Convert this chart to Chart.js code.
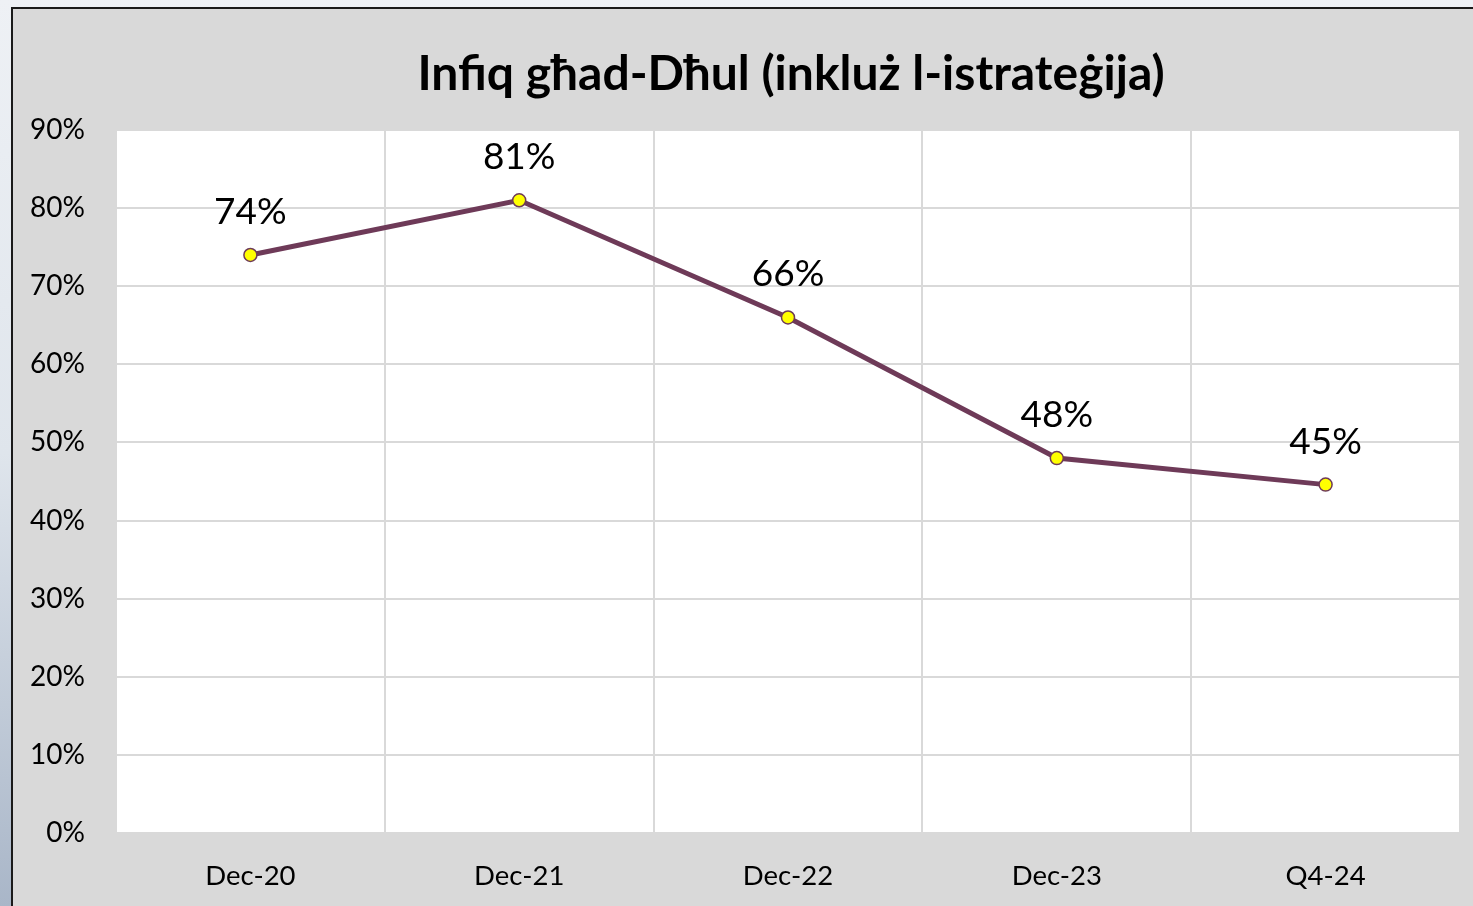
<!DOCTYPE html>
<html>
<head>
<meta charset="utf-8">
<script src="https://cdn.jsdelivr.net/npm/chart.js@4.4.1/dist/chart.umd.min.js"></script>
<style>
  html, body { margin:0; padding:0; width:1473px; height:906px; overflow:hidden; }
  body { background: linear-gradient(180deg, #eef1f5 0%, #dfe5ec 50%, #a9b6c8 100%); position:relative; }
  #frame { position:absolute; left:11px; top:7px; width:1462px; height:899px; border-left:2px solid #1a1a1a; border-top:2px solid #1a1a1a; background:#d9d9d9; }
  #c { display:block; }
</style>
</head>
<body>
<div id="frame"><canvas id="c" width="1462" height="899"></canvas></div>
<script>
const TITLE = 'Infiq għad-Dħul (inkluż l-istrateġija)';
const categories = ['Dec-20', 'Dec-21', 'Dec-22', 'Dec-23', 'Q4-24'];
const values = [74, 81, 66, 48, 44.6];
const yTicks = [0, 10, 20, 30, 40, 50, 60, 70, 80, 90];

const FONT = 'Lato, "Open Sans", sans-serif';

const labelsPlugin = {
  id: 'pointLabels',
  afterDatasetsDraw(chart) {
    const ctx = chart.ctx;
    const meta = chart.getDatasetMeta(0);
    ctx.save();
    ctx.font = '37px ' + FONT;
    ctx.fillStyle = '#000';
    ctx.textAlign = 'center';
    ctx.textBaseline = 'middle';
    meta.data.forEach((pt, i) => {
      ctx.fillText(Math.round(values[i]) + '%', pt.x, pt.y - 43);
    });
    ctx.restore();
  }
};

const titlePlugin = {
  id: 'customTitle',
  afterDraw(chart) {
    const ctx = chart.ctx;
    const a = chart.chartArea;
    ctx.save();
    ctx.font = 'bold 48px ' + FONT;
    ctx.fillStyle = '#000';
    ctx.textAlign = 'center';
    ctx.textBaseline = 'middle';
    ctx.fillText(TITLE, (a.left + a.right) / 2 + 3, 66);
    ctx.restore();
  }
};

const plotBg = {
  id: 'plotBg',
  beforeDraw(chart) {
    const a = chart.chartArea;
    const ctx = chart.ctx;
    ctx.save();
    ctx.fillStyle = '#ffffff';
    ctx.fillRect(a.left, a.top, a.right - a.left, a.bottom - a.top);
    ctx.restore();
  }
};

new Chart(document.getElementById('c'), {
  type: 'line',
  data: {
    labels: categories,
    datasets: [{
      data: values,
      borderColor: '#6e3a58',
      borderWidth: 5,
      pointBackgroundColor: '#ffff00',
      pointBorderColor: '#6e3a58',
      pointBorderWidth: 1.5,
      pointRadius: 6.5,
      tension: 0,
      clip: false
    }]
  },
  options: {
    responsive: false,
    animation: false,
    events: [],
    layout: { padding: { top: 121, right: 15, left: 0, bottom: 0 } },
    plugins: { legend: { display: false }, title: { display: false }, tooltip: { enabled: false } },
    scales: {
      x: {
        type: 'category',
        offset: true,
        grid: { offset: true, color: '#d9d9d9', lineWidth: 2, drawTicks: false },
        border: { display: false },
        ticks: { color: '#000', font: { family: FONT, size: 27.5 }, padding: 27, maxRotation: 0 },
        afterFit(s) { s.height = 75; }
      },
      y: {
        min: 0, max: 90,
        afterBuildTicks(s) { s.ticks = yTicks.map(v => ({ value: v })); },
        grid: { color: '#d9d9d9', lineWidth: 2, drawTicks: false },
        border: { display: false },
        ticks: { color: '#000', font: { family: FONT, size: 28 }, padding: 31, callback: v => v + '%' },
        afterFit(s) { s.width = 103; }
      }
    }
  },
  plugins: [plotBg, labelsPlugin, titlePlugin]
});
</script>
</body>
</html>
